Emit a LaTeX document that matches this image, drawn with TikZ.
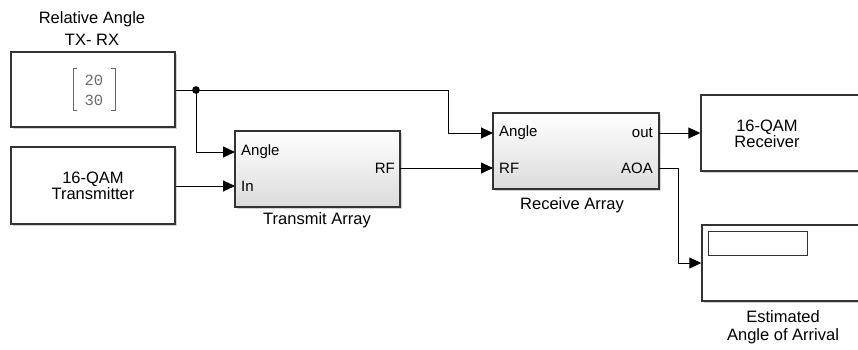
\documentclass[tikz,border=0pt]{standalone}
\usepackage{fontspec}
\setmainfont{Liberation Sans}
\newfontfamily\monofnt{Liberation Mono}
\usetikzlibrary{arrows.meta,shadows}
\definecolor{edge}{HTML}{333333}
\tikzset{
  blk/.style={draw=edge, line width=1.4pt, fill=white, inner sep=0pt,
    drop shadow={shadow xshift=2pt, shadow yshift=-2pt, opacity=0.35, fill=gray}},
  arr/.style={draw=edge, line width=1.4pt, top color=white, bottom color=gray!28, inner sep=0pt,
    drop shadow={shadow xshift=2pt, shadow yshift=-2pt, opacity=0.35, fill=gray}},
  wire/.style={draw=black, line width=1pt},
  sig/.style={wire, -{Triangle[length=12pt,width=11pt]}},
  lbl/.style={font=\fontsize{16.5}{19}\selectfont, align=center, inner sep=0pt},
  port/.style={font=\fontsize{15}{17}\selectfont, inner sep=0pt}
}
\begin{document}
\begin{tikzpicture}[x=1pt,y=-1pt]
\useasboundingbox (0,0) rectangle (858,349);
\clip (0,0) rectangle (858,349);
\fill[white] (0,0) rectangle (858,349);
% blocks
\node[blk, minimum width=164pt, minimum height=75pt] (rel) at (93,89.5) {};
\node[blk, minimum width=164pt, minimum height=77pt] (tx) at (93,185.5) {};
\node[arr, minimum width=165pt, minimum height=76pt] (ta) at (317.5,169) {};
\node[arr, minimum width=166pt, minimum height=76pt] (ra) at (576,151) {};
\node[blk, minimum width=174pt, minimum height=76pt] (rcv) at (788,133) {};
\node[blk, minimum width=173pt, minimum height=76pt] (disp) at (788.5,263) {};
\node[draw=edge, line width=1pt, minimum width=99pt, minimum height=24pt, inner sep=0pt] (dbox) at (757.5,243) {};
% block contents
\node[lbl] (reltitle1) at (92,19) {Relative Angle};
\node[lbl] (reltitle2) at (92,40) {TX- RX};
\node[font=\monofnt\fontsize{15.5}{18}\selectfont, text=gray!85!black, inner sep=0pt] (n20) at (94,80) {20};
\node[font=\monofnt\fontsize{15.5}{18}\selectfont, text=gray!85!black, inner sep=0pt] (n30) at (94,100) {30};
\draw[gray!80!black, line width=0.9pt] (77,68) -- (73,68) -- (73,110) -- (77,110);
\draw[gray!80!black, line width=0.9pt] (111,68) -- (115,68) -- (115,110) -- (111,110);
\node[lbl] (txt1) at (93,186) {16-QAM\\[-3pt]Transmitter};
\node[lbl] (rcvt) at (767,134) {16-QAM\\[-3pt]Receiver};
\node[lbl] (talbl) at (317,220) {Transmit Array};
\node[lbl] (ralbl) at (572,205) {Receive Array};
\node[lbl] (displbl) at (783,327) {Estimated\\[-1pt]Angle of Arrival};
% ports
\node[port, anchor=west] (pA) at (241,152) {Angle};
\node[port, anchor=west] (pI) at (241,186) {In};
\node[port, anchor=east] (pRF) at (395,168) {RF};
\node[port, anchor=west] (qA) at (499,133) {Angle};
\node[port, anchor=west] (qRF) at (499,168) {RF};
\node[port, anchor=east] (qO) at (653,133) {out};
\node[port, anchor=east] (qAOA) at (653,168) {AOA};
% port coordinates
\coordinate (taA) at (235,152);
\coordinate (taI) at (235,186);
\coordinate (taRF) at (400,168);
\coordinate (raA) at (493,133);
\coordinate (raRF) at (493,168);
\coordinate (raO) at (659,133);
\coordinate (raAOA) at (659,168);
\coordinate (j) at (196,90);
\coordinate (bend1) at (448,90);
\coordinate (bend2) at (678,168);
% wires
\draw[wire] (rel.east |- j) -- (j);
\draw[sig] (j) -- (bend1) |- (raA);
\draw[sig] (j) |- (taA);
\draw[sig] (tx.east |- taI) -- (taI);
\draw[sig] (taRF) -- (raRF);
\draw[sig] (raO) -- (rcv.west |- raO);
\draw[sig] (raAOA) -- (bend2) |- (disp.west);
\fill (j) circle (3.8pt);
\end{tikzpicture}
\end{document}
